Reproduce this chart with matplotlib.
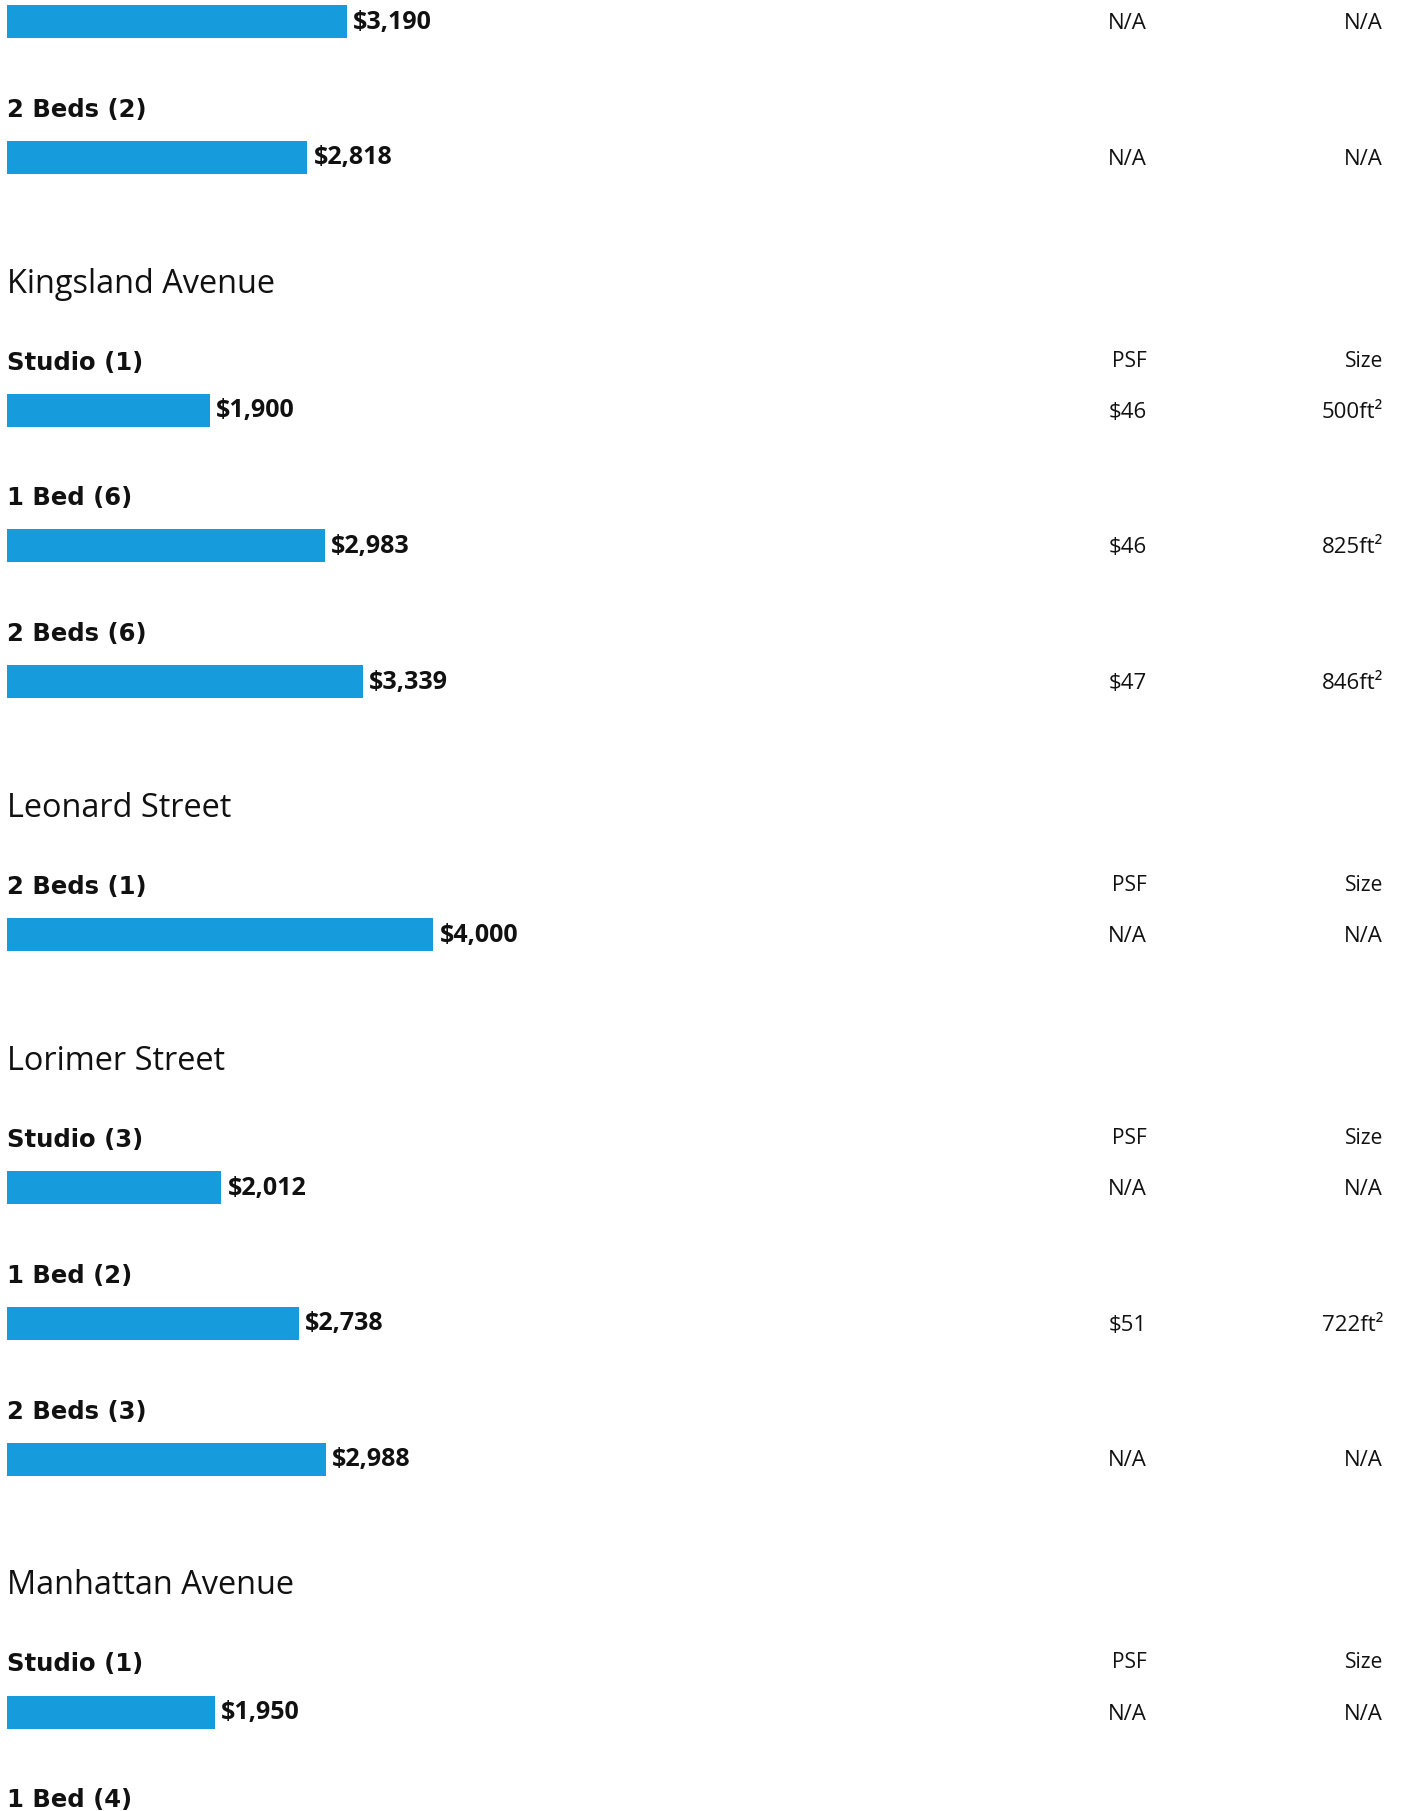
import math
from matplotlib import pyplot as plt

# Rent listing data
buildings = ['', 'Kingsland Avenue', 'Leonard Street', 'Lorimer Street', 'Manhattan Avenue']
unitBuilding = [0, 0, 1, 1, 1, 2, 3, 3, 3, 4, 4]
unitLabels = ['', '2 Beds (2)', 'Studio (1)', '1 Bed (6)', '2 Beds (6)', '2 Beds (1)',
              'Studio (3)', '1 Bed (2)', '2 Beds (3)', 'Studio (1)', '1 Bed (4)']
rents = [3190, 2818, 1900, 2983, 3339, 4000, 2012, 2738, 2988, 1950, None]
psf = ['N/A', 'N/A', '$46', '$46', '$47', 'N/A', 'N/A', '$51', 'N/A', 'N/A', None]
sizes = ['N/A', 'N/A', '500ft\u00b2', '825ft\u00b2', '846ft\u00b2', 'N/A', 'N/A', '722ft\u00b2', 'N/A', 'N/A', None]

barColor = '#169bdd'
textColor = '#111111'
fontName = 'Open Sans'
headFont = 'DejaVu Sans'

W, H = 1402, 1811
fig = plt.figure(figsize = [W / 100, H / 100], dpi = 100)
ax = fig.add_axes([0, 0, 1, 1])
ax.axis('off')

# x axis in dollars, y axis in page pixels (top = 0)
pxPerDollar = 0.1066
leftPx = 7
ax.set_xlim(-leftPx / pxPerDollar, (W - leftPx) / pxPerDollar)
ax.set_ylim(H, 0)

psfX = 1147 / W
sizeX = 1383 / W
colTrans = ax.get_yaxis_transform()  # x in axes fraction, y in data

# Layout: bar centre positions walked down the page
rowPitch = 135.7
buildingGap = 253
barHeight = 33
y = 21.5
barCenters = []
for i in range(len(unitLabels)):
    if i > 0:
        y += buildingGap if unitBuilding[i] != unitBuilding[i - 1] else rowPitch
    barCenters.append(y)

for i in range(len(unitLabels)):
    yc = barCenters[i]
    first = i == 0 or unitBuilding[i] != unitBuilding[i - 1]

    # Building title and column headers
    if first and buildings[unitBuilding[i]] != '':
        ax.text(0, yc - 117.5, buildings[unitBuilding[i]], fontsize = 23.4, family = fontName,
                color = textColor, va = 'baseline', ha = 'left')
    if first and unitBuilding[i] > 0:
        ax.text(psfX, yc - 43.5, 'PSF', transform = colTrans, fontsize = 15, family = fontName,
                color = textColor, va = 'baseline', ha = 'right')
        ax.text(sizeX, yc - 43.5, 'Size', transform = colTrans, fontsize = 15, family = fontName,
                color = textColor, va = 'baseline', ha = 'right')

    # Unit type heading
    if unitLabels[i] != '':
        ax.text(0, yc - 40.5, unitLabels[i], fontsize = 17.5, family = headFont, fontweight = 'bold',
                color = textColor, va = 'baseline', ha = 'left')

    if rents[i] is None:
        continue

    ax.barh(yc, rents[i], height = barHeight, left = 0, color = barColor, linewidth = 0)
    ax.annotate('${:,}'.format(rents[i]), (rents[i], yc + 7), xytext = (6, 0), textcoords = 'offset pixels',
                fontsize = 18, family = fontName, fontweight = 'bold', color = textColor,
                va = 'baseline', ha = 'left')

    ax.text(psfX, yc + 7.5, psf[i], transform = colTrans, fontsize = 16, family = fontName,
            color = textColor, va = 'baseline', ha = 'right')
    ax.text(sizeX, yc + 7.5, sizes[i], transform = colTrans, fontsize = 16, family = fontName,
            color = textColor, va = 'baseline', ha = 'right')

plt.savefig('out.png', dpi = 100)
plt.close()
